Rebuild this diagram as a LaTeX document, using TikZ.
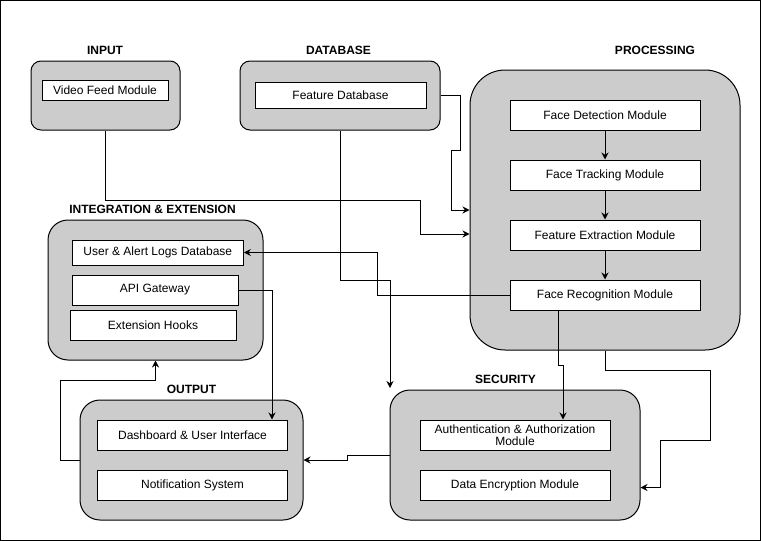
\documentclass[tikz,border=0pt]{standalone}
\usepackage{fontspec}
\setmainfont{Liberation Sans}
\usetikzlibrary{arrows.meta}
\definecolor{grpfill}{HTML}{CCCCCC}
\begin{document}
\begin{tikzpicture}[x=1pt,y=-1pt,
  grp/.style={draw=black, fill=grpfill, line width=1pt, inner sep=0pt},
  modbox/.style={draw=black, fill=white, line width=1pt, inner sep=0pt, font=\fontsize{12}{14}\selectfont, align=center},
  ttl/.style={font=\bfseries\fontsize{12}{14}\selectfont, inner sep=0pt},
  conn/.style={draw=black, line width=1pt, -{Stealth[length=7pt,width=7pt]}},
  frame/.style={draw=black, line width=1pt}]
\useasboundingbox (0,0) rectangle (761,541);
\draw[frame] (0.5,0.5) rectangle (760.5,540.5);

% groups
\node[grp, rounded corners=10pt, minimum width=149pt, minimum height=69pt] (inp) at (105.5,95.5) {};
\node[grp, rounded corners=10pt, minimum width=200pt, minimum height=69pt] (db) at (340,95.5) {};
\node[grp, rounded corners=35pt, minimum width=270pt, minimum height=280pt] (proc) at (605,210) {};
\node[grp, rounded corners=20pt, minimum width=215pt, minimum height=140pt] (integ) at (155.5,290) {};
\node[grp, rounded corners=20pt, minimum width=223pt, minimum height=120pt] (out) at (191.5,460) {};
\node[grp, rounded corners=20pt, minimum width=250pt, minimum height=130pt] (sec) at (515,455) {};

% titles
\node[ttl] (tinp) at (105,50) {INPUT};
\node[ttl] (tdb) at (338.5,50) {DATABASE};
\node[ttl] (tproc) at (655,50) {PROCESSING};
\node[ttl] (tinteg) at (152.5,209.5) {INTEGRATION \& EXTENSION};
\node[ttl] (tout) at (191.5,389.5) {OUTPUT};
\node[ttl] (tsec) at (505.5,379.5) {SECURITY};

% modules
\node[modbox, minimum width=126pt, minimum height=20pt] (vfm) at (105,90) {Video Feed Module};
\node[modbox, minimum width=171pt, minimum height=26pt] (fdb) at (340.5,95) {Feature Database};
\node[modbox, minimum width=190pt, minimum height=30pt] (fd) at (605,115) {Face Detection Module};
\node[modbox, minimum width=190pt, minimum height=30pt] (ft) at (605,175) {Face Tracking Module};
\node[modbox, minimum width=190pt, minimum height=30pt] (fe) at (605,235) {Feature Extraction Module};
\node[modbox, minimum width=190pt, minimum height=30pt] (fr) at (605,295) {Face Recognition Module};
\node[modbox, minimum width=171pt, minimum height=25pt] (ual) at (157.8,252.5) {User \& Alert Logs Database};
\node[modbox, minimum width=166pt, minimum height=30pt] (api) at (155,290) {API Gateway};
\node[modbox, minimum width=166pt, minimum height=30pt] (ext) at (153,325) {Extension Hooks};
\node[modbox, minimum width=190pt, minimum height=30pt] (dash) at (192.5,435) {Dashboard \& User Interface};
\node[modbox, minimum width=190pt, minimum height=30pt] (notif) at (192.5,485) {Notification System};
\node[modbox, minimum width=190pt, minimum height=30pt, font=\fontsize{12}{13.5}\selectfont] (auth) at (515,435) {Authentication \& Authorization\\[-1pt]Module};
\node[modbox, minimum width=190pt, minimum height=30pt] (enc) at (515,485) {Data Encryption Module};

\coordinate (dbend) at (390,388);

% connectors
\draw[conn] (inp.south) |- (420,200) |- (proc.west |- 0,234);
\draw[conn] (db.east) -- (460,95.5) -- (460,150) -- (451,150) |- (proc.west |- 0,210);
\draw[conn] (db.south) |- (dbend |- 0,280) -- (dbend);
\draw[conn] (fr.west) -| (377,252.5) -- (ual.east);
\draw[conn] (api.east) -| (dash.north -| 272,0);
\draw[conn] (fr.south -| 558,0) -- (558,365) -- (563,365) -- (auth.north -| 563,0);
\draw[conn] (proc.south) -- (605,370) -- (710,370) -- (710,440) -- (660,440) |- (sec.east |- 0,487.5);
\draw[conn] (sec.west) -- (347,455) -- (347,460) -- (out.east);
\draw[conn] (out.west) -- (60,460) -- (60,380) -| (integ.south);
\draw[conn] (fd.south) -- (ft.north);
\draw[conn] (ft.south) -- (fe.north);
\draw[conn] (fe.south) -- (fr.north);
\end{tikzpicture}
\end{document}
